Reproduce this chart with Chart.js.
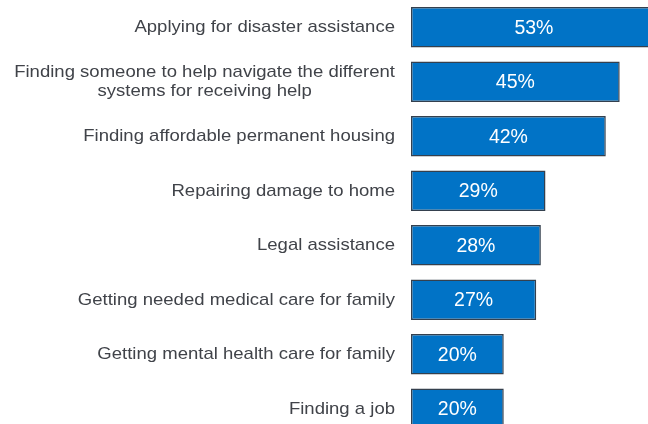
<!DOCTYPE html>
<html>
<head>
<meta charset="utf-8">
<script src="https://cdn.jsdelivr.net/npm/chart.js@4"></script>
<style>
  html, body { margin: 0; padding: 0; background: #fff; overflow: hidden; }
  #wrap { width: 648px; height: 436px; position: relative; }
</style>
</head>
<body>
<div id="wrap"><canvas id="needsChart"></canvas></div>
<script>
const categories = [
  ["Applying for disaster assistance"],
  ["Finding someone to help navigate the different", "systems for receiving help"],
  ["Finding affordable permanent housing"],
  ["Repairing damage to home"],
  ["Legal assistance"],
  ["Getting needed medical care for family"],
  ["Getting mental health care for family"],
  ["Finding a job"]
];
const shares = [53, 45, 42, 29, 28, 27, 20, 20];

const LABEL_FONT = "17px 'Liberation Sans', Arial, sans-serif";
const LABEL_STRETCH = 1.09;
const VALUE_FONT = "19.5px 'Liberation Sans', Arial, sans-serif";

// category names on the left: block right-aligned, lines centred within the block
const categoryText = {
  id: "categoryText",
  afterDraw(chart) {
    const ctx = chart.ctx;
    const y = chart.scales.y;
    const right = chart.chartArea.left - 16;
    ctx.save();
    ctx.font = LABEL_FONT;
    ctx.fillStyle = "#404349";
    ctx.textBaseline = "middle";
    ctx.textAlign = "center";
    const lineH = 19;
    categories.forEach((lines, i) => {
      const cy = y.getPixelForValue(i);
      const widest = Math.max(...lines.map(l => ctx.measureText(l).width)) * LABEL_STRETCH;
      const cx = right - widest / 2;
      const top = cy - (lines.length - 1) * lineH / 2;
      lines.forEach((l, k) => {
        ctx.save();
        ctx.translate(cx, top + k * lineH + 0.5);
        ctx.scale(LABEL_STRETCH, 1);
        ctx.fillText(l, 0, 0);
        ctx.restore();
      });
    });
    ctx.restore();
  }
};

// percentage inside each bar
const valueText = {
  id: "valueText",
  afterDatasetsDraw(chart) {
    const ctx = chart.ctx;
    const meta = chart.getDatasetMeta(0);
    ctx.save();
    ctx.font = VALUE_FONT;
    ctx.fillStyle = "#ffffff";
    ctx.textAlign = "center";
    ctx.textBaseline = "middle";
    meta.data.forEach((bar, i) => {
      const cx = (bar.x + bar.base) / 2;
      ctx.fillText(shares[i] + "%", cx, bar.y + 1);
    });
    ctx.restore();
  }
};

new Chart(document.getElementById("needsChart"), {
  type: "bar",
  data: {
    labels: categories.map(c => c.join(" ")),
    datasets: [{
      data: shares,
      backgroundColor: "#0173C6",
      borderColor: "#34404E",
      borderWidth: 1.5,
      borderSkipped: false,
      barPercentage: 0.745,
      categoryPercentage: 1
    }]
  },
  options: {
    indexAxis: "y",
    responsive: true,
    maintainAspectRatio: false,
    animation: false,
    layout: { padding: 0 },
    plugins: {
      legend: { display: false },
      tooltip: { enabled: false }
    },
    scales: {
      x: {
        display: false,
        min: 0,
        max: 51.1
      },
      y: {
        grid: { display: false },
        border: { display: false },
        ticks: { display: false },
        afterFit(scale) { scale.width = 411; }
      }
    }
  },
  plugins: [categoryText, valueText]
});
</script>
</body>
</html>
